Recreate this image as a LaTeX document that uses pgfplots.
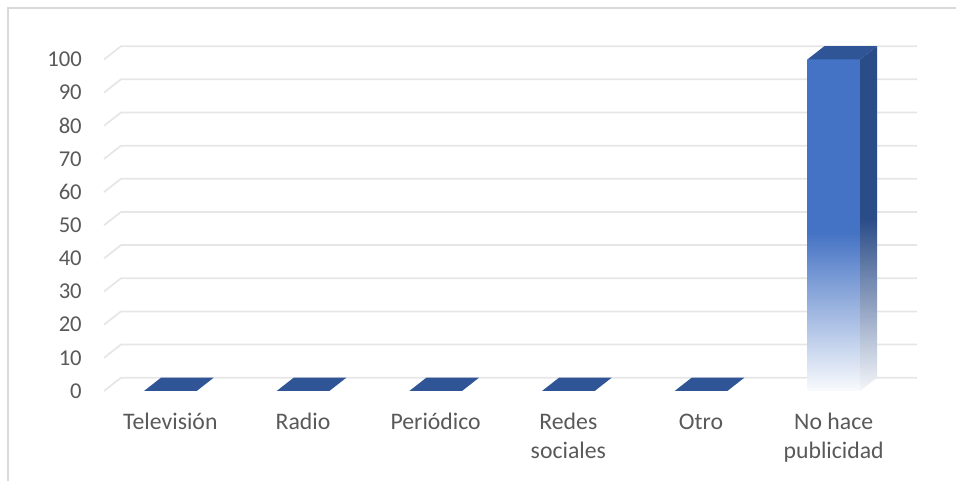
\documentclass[border=0pt]{standalone}
\usepackage{fontspec}
\setmainfont{Carlito}
\usepackage{pgfplots}
\usepackage{pgfplotstable}
\pgfplotsset{compat=1.18}

\definecolor{frontblue}{HTML}{4472C4}
\definecolor{topblue}{HTML}{2F5597}
\definecolor{sideblue}{HTML}{2A4C88}
\definecolor{gridc}{HTML}{E6E6E6}
\definecolor{framec}{HTML}{D9D9D9}
\definecolor{labc}{HTML}{595959}
\colorlet{frontlight}{frontblue!3!white}
\colorlet{sidelight}{sideblue!5!white}

\pgfdeclareverticalshading{frontshade}{100bp}{color(0bp)=(frontlight); color(25bp)=(frontlight); color(49bp)=(frontblue); color(100bp)=(frontblue)}
\pgfdeclareverticalshading{sideshade}{100bp}{color(0bp)=(sidelight); color(25bp)=(sidelight); color(50bp)=(sideblue); color(100bp)=(sideblue)}

% top face of a 3D bar (drawn at the data point)
\pgfdeclareplotmark{top3d}{%
  \pgfpathmoveto{\pgfqpoint{-19.76pt}{0pt}}%
  \pgfpathlineto{\pgfqpoint{19.76pt}{0pt}}%
  \pgfpathlineto{\pgfqpoint{32.51pt}{9.975pt}}%
  \pgfpathlineto{\pgfqpoint{-7.01pt}{9.975pt}}%
  \pgfpathclose
  \pgfusepathqfill}

% side face of a 3D bar, height taken from the data value
\pgfdeclareplotmark{side3d}{%
  \pgfkeys{/pgf/fpu=true,/pgf/fpu/output format=fixed}%
  \pgfmathparse{\rawy*2.48625}%
  \global\let\barh\pgfmathresult
  \pgfkeys{/pgf/fpu=false}%
  \pgfpathmoveto{\pgfpoint{19.76pt}{0pt}}%
  \pgfpathlineto{\pgfpoint{32.51pt}{9.975pt}}%
  \pgfpathlineto{\pgfpoint{32.51pt}{9.975pt-\barh pt}}%
  \pgfpathlineto{\pgfpoint{19.76pt}{-\barh pt}}%
  \pgfpathclose
  \pgfshadepath{sideshade}{0}%
  \pgfusepath{}}

\pgfplotstableread{
idx val
0 0
1 0
2 0
3 0
4 0
5 100
}\datatable

\begin{document}
\begin{tikzpicture}
\useasboundingbox (0,0) rectangle (717pt,360.75pt);
\draw[framec, line width=1.1pt] (6pt,-1pt) -- (6pt,354.75pt) -- (718pt,354.75pt);
\begin{axis}[
  at={(78pt,67.5pt)}, anchor=south west,
  scale only axis, width=597pt, height=248.625pt,
  xmin=-0.5, xmax=5.5, ymin=0, ymax=100,
  clip=false,
  axis line style={draw=none},
  major tick length=0pt,
  xtick={0,...,5},
  xticklabels={{\strut Televisión},{\strut Radio},{\strut Periódico},{\strut Redes\\sociales},{\strut Otro},{\strut No hace\\publicidad}},
  ytick={0,10,...,100},
  ticklabel style={text=labc},
  xticklabel style={font=\fontsize{17.8}{21.75}\selectfont, anchor=north, align=center, inner sep=0pt, yshift=-13.6pt},
  yticklabel style={font=\fontsize{17}{21}\selectfont, anchor=east, inner sep=0pt, xshift=-16.5pt},
  /pgf/number format/assume math mode=true,
  point meta min=0, point meta max=100,
]
\pgfplotsinvokeforeach{0,10,...,100}{
  \draw[gridc, line width=1.3pt] (axis cs:-0.5,#1) -- ++(12.75pt,9.975pt) -- ++(597pt,0pt);
}
\addplot[only marks, mark=top3d, color=topblue] table[x=idx, y=val] {\datatable};
\addplot[scatter, only marks, mark=side3d, restrict y to domain=0.5:200,
  visualization depends on={y \as \rawy}] table[x=idx, y=val] {\datatable};
\addplot[ybar, bar width=39.53pt, shading=frontshade, draw=none,
  restrict y to domain=0.5:200] table[x=idx, y=val] {\datatable};
\end{axis}
\end{tikzpicture}
\end{document}
